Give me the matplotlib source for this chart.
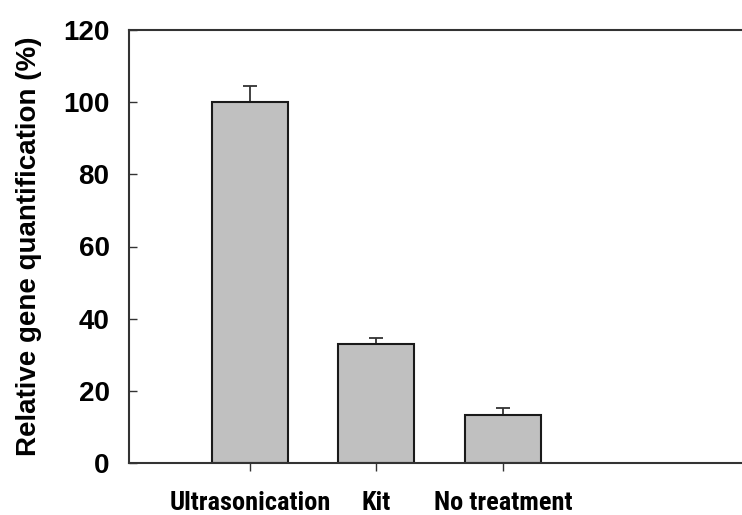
import matplotlib
matplotlib.use('Agg')
import matplotlib.pyplot as plt
from matplotlib import font_manager
import numpy as np

plt.rcParams['font.family'] = ['Liberation Sans', 'DejaVu Sans']
plt.rcParams['font.weight'] = 'bold'

treatments = ['Ultrasonication', 'Kit', 'No treatment']
quantification = [100.0, 33.1, 13.3]
error_up = [4.4, 1.6, 2.0]

# pick a narrow sans face for the category names if one is installed
installed = sorted({f.name for f in font_manager.fontManager.ttflist})
narrow = [n for n in installed if 'Narrow' in n or 'Condensed' in n]
preferred = ['Liberation Sans Narrow', 'Arial Narrow', 'Roboto Condensed',
             'Open Sans Condensed']
narrow = [n for n in preferred if n in narrow] + [n for n in narrow if n not in preferred]
if narrow:
    cat_family, cat_size = [narrow[0], 'Liberation Sans'], 19
else:
    cat_family, cat_size = ['Liberation Sans', 'DejaVu Sans'], 15.5

fig = plt.figure(figsize=(7.42, 5.15), dpi=100)
ax = fig.add_axes([129 / 742, 52 / 515, 1 - 129 / 742, 433 / 515])

pos = np.arange(1, len(treatments) + 1)
ax.bar(pos, quantification, width=0.6, color='#c0c0c0', edgecolor='#1a1a1a',
       linewidth=1.5, zorder=2)
ax.errorbar(pos, quantification, yerr=[np.zeros(len(pos)), error_up], fmt='none',
            ecolor='#333333', elinewidth=1.3, capsize=5, capthick=1.3, zorder=1)

ax.set_xlim(0.045, 4.89)
ax.set_ylim(0, 120)
ax.set_yticks(np.arange(0, 121, 20))
ax.set_xticks(pos)
ax.set_xticklabels(treatments)
ax.tick_params(axis='y', direction='in', length=6, width=1, colors='#333333',
               labelcolor='black', labelsize=20, pad=14)
ax.tick_params(axis='x', direction='out', length=6, width=1, colors='#333333',
               labelcolor='black', labelsize=cat_size, pad=14)
for lbl in ax.get_yticklabels():
    lbl.set_fontweight('bold')
for lbl in ax.get_xticklabels():
    lbl.set_fontweight('bold')
    lbl.set_family(cat_family)

ax.spines['right'].set_visible(False)
for side in ['left', 'top', 'bottom']:
    ax.spines[side].set_color('#333333')
    ax.spines[side].set_linewidth(1.5)

ax.set_ylabel('Relative gene quantification (%)', fontsize=20, fontweight='bold',
              labelpad=15)

fig.savefig('out.png', dpi=100)
